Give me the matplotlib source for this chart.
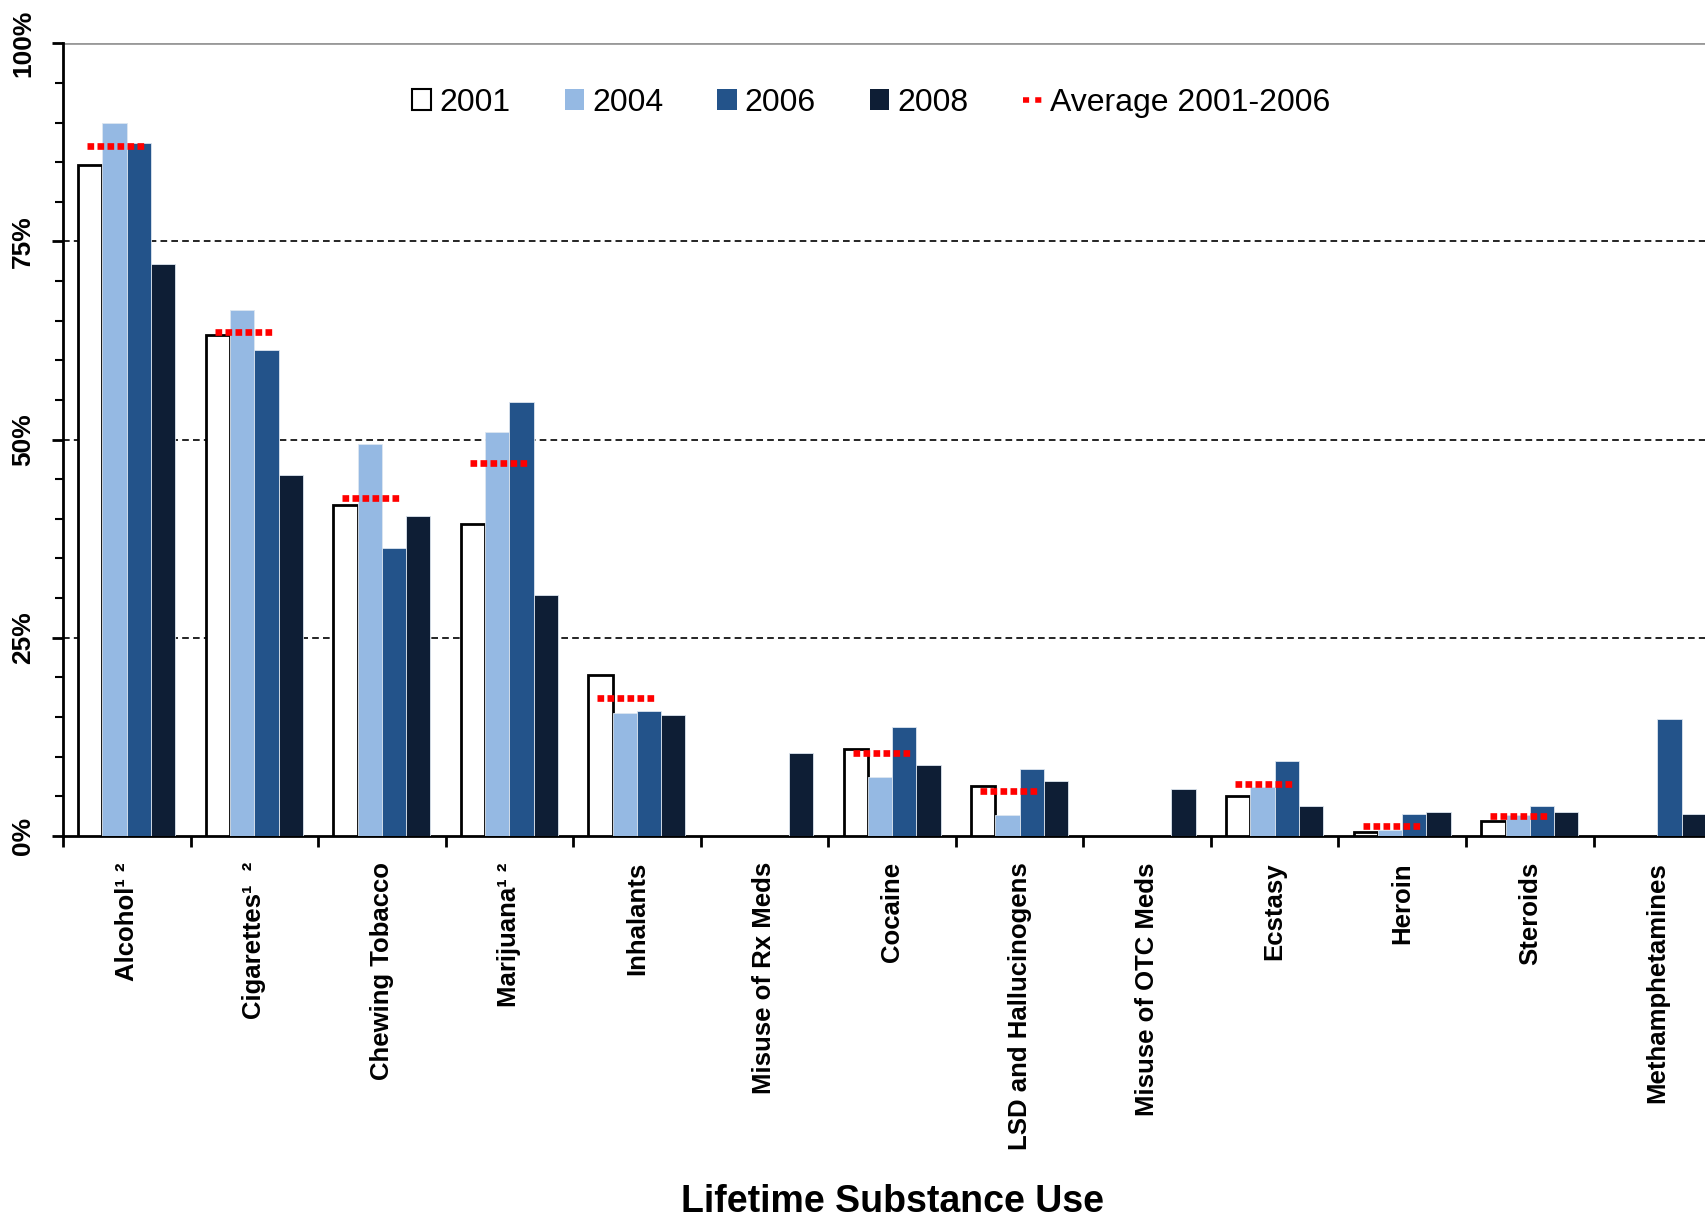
import numpy as np
import matplotlib
matplotlib.use("Agg")
import matplotlib.pyplot as plt
from matplotlib.patches import Patch
from matplotlib.lines import Line2D
from matplotlib.ticker import MultipleLocator, FuncFormatter

plt.rcParams["font.family"] = ["Liberation Sans", "DejaVu Sans"]

# lifetime use, percent of students
categories = ["Alcohol¹ ²", "Cigarettes¹  ²", "Chewing Tobacco", "Marijuana¹ ²", "Inhalants",
              "Misuse of Rx Meds", "Cocaine", "LSD and Hallucinogens", "Misuse of OTC Meds",
              "Ecstasy", "Heroin", "Steroids", "Methamphetamines"]
years = ["2001", "2004", "2006", "2008"]
use_2001 = [84.6, 63.2, 41.8, 39.3, 20.3, np.nan, 10.9, 6.3, np.nan, 5.0, 0.5, 1.9, np.nan]
use_2004 = [90.0, 66.3, 49.5, 51.0, 15.5, np.nan, 7.4, 2.6, np.nan, 6.2, 0.7, 2.6, np.nan]
use_2006 = [87.4, 61.3, 36.3, 54.8, 15.7, np.nan, 13.7, 8.4, np.nan, 9.4, 2.8, 3.8, 14.7]
use_2008 = [72.1, 45.5, 40.4, 30.4, 15.2, 10.4, 8.9, 6.9, 5.9, 3.8, 3.0, 3.0, 2.8]
avg_2001_2006 = [87.1, 63.6, 42.6, 47.1, 17.4, np.nan, 10.4, 5.6, np.nan, 6.6, 1.3, 2.5, np.nan]

colors = ["white", "#95B9E3", "#23538A", "#0E1E35"]

fig = plt.figure(figsize=(17.06, 12.22), dpi=100)
ax = fig.add_axes([0.0369, 0.316, 0.963, 0.6485])

x = np.arange(len(categories))
w = 0.19
series = [use_2001, use_2004, use_2006, use_2008]
for i, vals in enumerate(series):
    off = (i - 1.5) * w
    if i == 0:
        ax.bar(x + off, vals, w, color="white", edgecolor="black", linewidth=2, zorder=3)
    else:
        ax.bar(x + off, vals, w, color=colors[i], edgecolor="#DDE6F0", linewidth=0.6, zorder=3)

# average line for 2001-2006, one short dotted segment per category
for xi, a in zip(x, avg_2001_2006):
    if np.isnan(a):
        continue
    ax.plot([xi - 0.31, xi + 0.15], [a, a], color="#FF0000", linewidth=4.8,
            linestyle=(0, (1.0, 0.5)), solid_capstyle="butt", zorder=4)

for v in [25, 50, 75]:
    ax.axhline(v, color="black", linestyle=(0, (4, 2.5)), linewidth=1.2, zorder=1)
ax.axhline(100, color="#999999", linewidth=2, zorder=1)

ax.spines["top"].set_visible(False)
ax.spines["right"].set_visible(False)
ax.spines["left"].set_linewidth(2)
ax.spines["bottom"].set_linewidth(2)

ax.yaxis.set_major_locator(MultipleLocator(25))
ax.yaxis.set_minor_locator(MultipleLocator(5))
ax.yaxis.set_major_formatter(FuncFormatter(lambda v, p: f"{int(v)}%"))
ax.tick_params(axis="y", which="major", length=8, width=2, pad=12, labelsize=19)
ax.tick_params(axis="y", which="minor", length=6, width=1.5)
for lab in ax.get_yticklabels():
    lab.set_rotation(90)
    lab.set_fontweight("bold")
    lab.set_va("center")

ax.set_xticks(np.arange(-0.5, 13, 1.0))
ax.set_xticklabels([])
ax.set_xticks(x, minor=True)
ax.set_xticklabels(categories, minor=True, rotation=90, fontsize=18.5, fontweight="bold")
ax.tick_params(axis="x", which="major", length=8, width=2)
ax.tick_params(axis="x", which="minor", length=0, pad=19)

# set limits after the ticks, set_xticks would widen them
ax.set_xlim(-0.5, 12.38)
ax.set_ylim(0, 100)

fig.text(0.523, 0.016, "Lifetime Substance Use", ha="center", va="center",
         fontsize=27, fontweight="bold")

handles = [Patch(facecolor="white", edgecolor="black", linewidth=1.5),
           Patch(facecolor=colors[1]),
           Patch(facecolor=colors[2]),
           Patch(facecolor=colors[3]),
           Line2D([0], [0], color="#FF0000", linewidth=4, linestyle=(0, (1.1, 1.1)))]
labels = years + ["Average 2001-2006"]
fig.legend(handles, labels, loc="center", bbox_to_anchor=(0.5106, 0.916), ncol=5,
           frameon=False, fontsize=23, handlelength=0.6, handleheight=0.6,
           handletextpad=0.25, columnspacing=1.7)

fig.savefig("out.png", dpi=100)
